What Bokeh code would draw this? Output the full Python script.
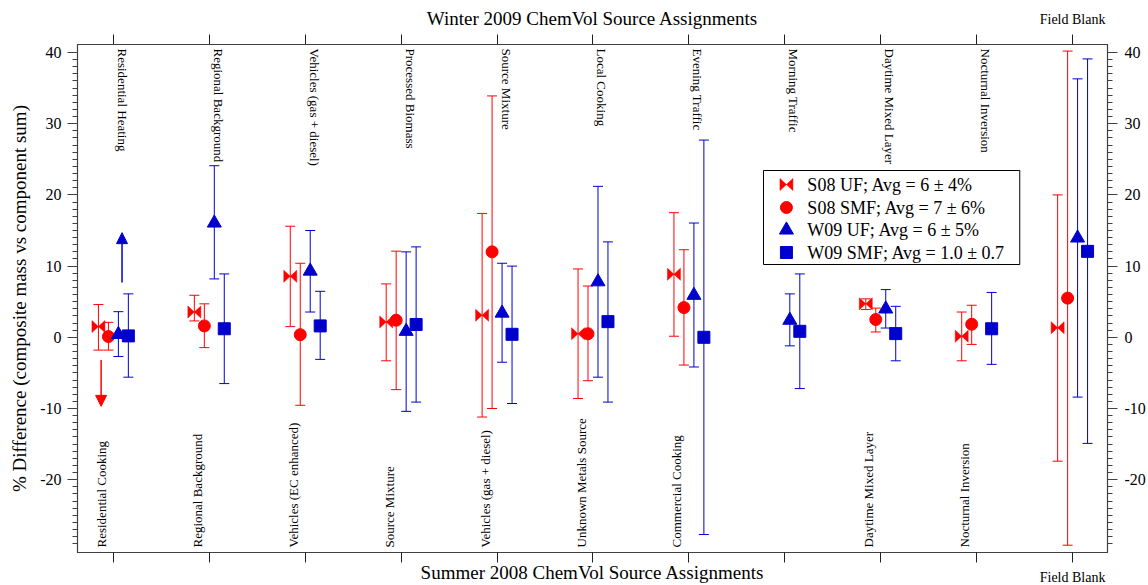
import numpy as np
from bokeh.plotting import figure
from bokeh.models import (Range1d, LinearAxis, FixedTicker, Whisker, TeeHead,
                          ColumnDataSource, Arrow, NormalHead)
from bokeh.core.properties import value
from bokeh.embed import file_html
from bokeh.resources import INLINE

# ---------------- data ----------------
positions = list(range(1, 12))
top_labels = ["Residential Heating", "Regional Background", "Vehicles (gas + diesel)",
              "Processed Biomass", "Source Mixture", "Local Cooking", "Evening Traffic",
              "Morning Traffic", "Daytime Mixed Layer", "Nocturnal Inversion", "Field Blank"]
bottom_labels = ["Residential Cooking", "Regional Background", "Vehicles (EC enhanced)",
                 "Source Mixture", "Vehicles (gas + diesel)", "Unknown Metals Source",
                 "Commercial Cooking", "", "Daytime Mixed Layer", "Nocturnal Inversion",
                 "Field Blank"]
top_title = "Winter 2009 ChemVol Source Assignments"
bottom_title = "Summer 2008 ChemVol Source Assignments"
y_title = "% Difference (composite mass vs component sum)"
nan = float("nan")

s08_uf = [1.5, 3.55, 8.57, 2.15, 3.1, 0.5, 8.85, nan, 4.7, 0.15, 1.35]
s08_uf_lo = [-1.8, 2.3, 1.5, -3.3, -11.2, -8.6, 0.15, nan, 3.9, -3.3, -17.4]
s08_uf_hi = [4.6, 5.9, 15.6, 7.5, 17.4, 9.6, 17.5, nan, 5.4, 3.55, 20.0]

s08_smf = [0.1, 1.6, 0.37, 2.4, 12.0, 0.5, 4.17, nan, 2.5, 1.83, 5.5]
s08_smf_lo = [-1.8, -1.45, -9.55, -7.35, -10.0, -6.1, -3.9, nan, 0.75, -1.0, -29.2]
s08_smf_hi = [2.1, 4.7, 10.4, 12.1, 33.9, 7.2, 12.3, nan, 4.1, 4.5, 40.2]

w09_uf = [0.4, 16.05, 9.3, 0.84, 3.4, 7.8, 5.9, 2.4, 3.98, nan, 13.95]
w09_uf_lo = [-2.7, 8.2, 3.55, -10.4, -3.5, -5.6, -4.17, -1.2, 1.3, nan, -8.4]
w09_uf_hi = [3.6, 24.1, 15.0, 12.0, 10.4, 21.2, 16.05, 6.1, 6.7, nan, 36.3]

w09_smf = [0.2, 1.2, 1.6, 1.8, 0.42, 2.2, 0.0, 0.84, 0.52, 1.2, 12.07]
w09_smf_lo = [-5.6, -6.5, -3.1, -9.1, -9.3, -9.1, -27.7, -7.2, -3.3, -3.8, -14.9]
w09_smf_hi = [6.1, 8.9, 6.46, 12.7, 10.0, 13.4, 27.7, 8.9, 4.35, 6.3, 39.1]

legend_labels = ["S08 UF; Avg = 6 \u00b1 4%", "S08 SMF; Avg = 7 \u00b1 6%",
                 "W09 UF; Avg = 6 \u00b1 5%", "W09 SMF; Avg = 1.0 \u00b1 0.7"]

# off-scale arrows (group 1)
arrow_pos = [1, 1]
arrow_dx = [-0.128, 0.09]
arrow_from = [-3.2, 7.7]
arrow_to = [-9.7, 14.7]

y_major = [-20, -10, 0, 10, 20, 30, 40]
y_major_labels = ["-20", "-10", "0", "10", "20", "30", "40"]
y_minor = list(range(-29, 41))

# ---------------- geometry ----------------
RED = "#FF0000"
BLUE = "#0000CC"
FONT = "Liberation Serif"
PX_X = 96.2   # pixels per x unit
PX_Y = 7.12   # pixels per y unit
X0 = 1 - 36 / PX_X
X1 = X0 + 1033 / PX_X
Y1 = 40 + 8 / PX_Y
Y0 = Y1 - 508 / PX_Y


def xd(px):
    return 1 + (px - 113) / PX_X


def yd(py):
    return Y1 - (py - 44) / PX_Y


p = figure(width=1148, height=585, x_range=Range1d(X0, X1), y_range=Range1d(Y0, Y1),
           output_backend="svg", toolbar_location=None,
           x_axis_location=None, y_axis_location=None,
           min_border_left=77, min_border_right=38, min_border_top=44, min_border_bottom=33)
p.grid.grid_line_color = None
p.outline_line_color = "#404040"
p.outline_line_width = 1.2
p.background_fill_color = "white"
p.border_fill_color = "white"


def style_y(ax, standoff):
    ax.axis_line_color = "#404040"
    ax.major_tick_line_color = "#404040"
    ax.minor_tick_line_color = "#404040"
    ax.major_tick_out = 10
    ax.major_tick_in = 0
    ax.minor_tick_out = 5
    ax.minor_tick_in = 0
    ax.major_label_text_font = FONT
    ax.major_label_text_font_size = "16px"
    ax.major_label_text_color = "black"
    ax.major_label_standoff = standoff
    ax.major_label_overrides = {t: s for t, s in zip(y_major, y_major_labels)}


left = LinearAxis(ticker=FixedTicker(ticks=y_major, minor_ticks=y_minor))
style_y(left, 6)
left.axis_label = y_title
left.axis_label_text_font = FONT
left.axis_label_text_font_size = "19px"
left.axis_label_text_font_style = "normal"
left.axis_label_text_color = "black"
left.axis_label_standoff = 7
p.add_layout(left, "left")

right = LinearAxis(ticker=FixedTicker(ticks=y_major, minor_ticks=y_minor))
style_y(right, 7)
p.add_layout(right, "right")

for loc, title, names, lstand, tstand in (("above", top_title, top_labels, 8, -20),
                                          ("below", bottom_title, bottom_labels, 7, -26)):
    ax = LinearAxis(ticker=FixedTicker(ticks=positions, minor_ticks=[]))
    ax.axis_line_color = "#404040"
    ax.major_tick_line_color = "#202020"
    ax.major_tick_out = 10
    ax.major_tick_in = 0
    ax.minor_tick_out = 0
    ax.major_label_overrides = {pos: (names[-1] if pos == positions[-1] else "")
                                for pos in positions}
    ax.major_label_text_font = FONT
    ax.major_label_text_font_size = "14px"
    ax.major_label_text_color = "black"
    ax.major_label_standoff = lstand
    ax.axis_label = title
    ax.axis_label_text_font = FONT
    ax.axis_label_text_font_size = "19px"
    ax.axis_label_text_font_style = "normal"
    ax.axis_label_text_color = "black"
    ax.axis_label_standoff = tstand
    p.add_layout(ax, loc)

# ---------------- series ----------------
offsets = [-0.156, -0.052, 0.052, 0.156]
series = [
    (s08_uf, s08_uf_lo, s08_uf_hi, RED, "bowtie"),
    (s08_smf, s08_smf_lo, s08_smf_hi, RED, "circle"),
    (w09_uf, w09_uf_lo, w09_uf_hi, BLUE, "triangle"),
    (w09_smf, w09_smf_lo, w09_smf_hi, BLUE, "square"),
]

BW = 6.5 / PX_X
BH = 6.0 / PX_Y


def bowtie(xs, ys):
    pxs = [[x - BW, x - BW, x + BW, x + BW] for x in xs]
    pys = [[y - BH, y + BH, y - BH, y + BH] for y in ys]
    return pxs, pys


for (vals, lo, hi, col, mk), off in zip(series, offsets):
    v = np.array(vals, dtype=float)
    ok = ~np.isnan(v)
    xs = (np.array(positions, dtype=float) + off)[ok]
    src = ColumnDataSource(dict(x=xs, y=v[ok], lo=np.array(lo)[ok], hi=np.array(hi)[ok]))
    w = Whisker(source=src, base="x", lower="lo", upper="hi", line_color=col, line_width=1,
                lower_head=TeeHead(size=10, line_color=col, line_width=1),
                upper_head=TeeHead(size=10, line_color=col, line_width=1))
    p.add_layout(w)
    if mk == "bowtie":
        pxs, pys = bowtie(list(xs), list(v[ok]))
        p.patches(pxs, pys, fill_color=col, line_color=col, line_width=0.5)
    elif mk == "circle":
        p.scatter("x", "y", source=src, marker="circle", size=12, fill_color=col, line_color=col)
    elif mk == "triangle":
        p.scatter("x", "y", source=src, marker="triangle", size=14, fill_color=col, line_color=col)
    else:
        p.scatter("x", "y", source=src, marker="square", size=12, fill_color=col, line_color=col)

# arrows
for pos, ddx, a0, a1, col in zip(arrow_pos, arrow_dx, arrow_from, arrow_to, [RED, BLUE]):
    p.add_layout(Arrow(x_start=pos + ddx, y_start=a0, x_end=pos + ddx, y_end=a1,
                       line_color=col, line_width=1.5,
                       end=NormalHead(size=11, fill_color=col, line_color=col, line_width=1)))

# ---------------- category labels inside ----------------
p.text(x=[x + 9 / PX_X for x in positions[:-1]], y=[Y1 - 4 / PX_Y] * 10, text=top_labels[:-1],
       angle=-np.pi / 2, text_align="left", text_baseline="middle",
       text_font=value(FONT), text_font_size="13px", text_color="black")
bl = [(x, t) for x, t in zip(positions[:-1], bottom_labels[:-1]) if t]
p.text(x=[x - 12 / PX_X for x, _ in bl], y=[Y0 + 5 / PX_Y] * len(bl), text=[t for _, t in bl],
       angle=np.pi / 2, text_align="left", text_baseline="middle",
       text_font=value(FONT), text_font_size="13px", text_color="black")

# ---------------- legend ----------------
p.quad(left=xd(765), right=xd(1022), top=yd(170), bottom=yd(264),
       fill_color="white", line_color="black", line_width=1)
ly = [yd(184), yd(207), yd(229.5), yd(252)]
lx = xd(788)
bx, by = bowtie([lx], [ly[0]])
p.patches(bx, by, fill_color=RED, line_color=RED, line_width=0.5)
p.scatter([lx], [ly[1]], marker="circle", size=12, fill_color=RED, line_color=RED)
p.scatter([lx], [ly[2]], marker="triangle", size=14, fill_color=BLUE, line_color=BLUE)
p.scatter([lx], [ly[3]], marker="square", size=12, fill_color=BLUE, line_color=BLUE)
p.text(x=[xd(809)] * 4, y=ly, text=legend_labels, text_align="left", text_baseline="middle",
       text_font=value(FONT), text_font_size="18px", text_color="black")

open("out.html", "w").write(file_html(p, INLINE))
